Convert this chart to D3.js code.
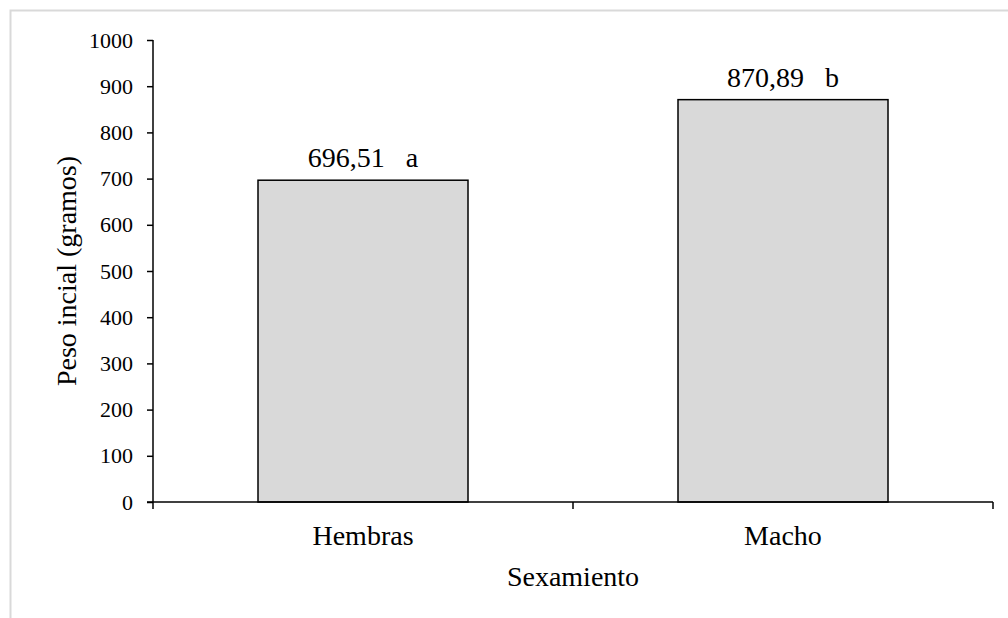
<!DOCTYPE html>
<html>
<head>
<meta charset="utf-8">
<script src="https://cdn.jsdelivr.net/npm/d3@7"></script>
<style>
  html, body { margin: 0; padding: 0; background: #fff; }
  svg { display: block; font-family: "Liberation Serif", "Times New Roman", serif; }
  .tick text { font-size: 22px; fill: #000; font-family: "Liberation Serif", "Times New Roman", serif; }
</style>
</head>
<body>
<div id="view"></div>
<script>
const categories = ["Hembras", "Macho"];
const values = [696.51, 870.89];
const valueLabels = ["696,51   a", "870,89   b"];
const yTicks = [0, 100, 200, 300, 400, 500, 600, 700, 800, 900, 1000];

const W = 1008, H = 618;
const M = { t: 40, r: 15, b: 116, l: 153 };
const w = W - M.l - M.r, h = H - M.t - M.b;

const svg = d3.select("#view").append("svg")
  .attr("width", W).attr("height", H);

// marco del gráfico
svg.append("rect")
  .attr("x", 10.5).attr("y", 10.5)
  .attr("width", W + 20).attr("height", H + 20)
  .attr("fill", "none")
  .attr("stroke", "#d9d9d9")
  .attr("stroke-width", 2);

const g = svg.append("g").attr("transform", `translate(${M.l},${M.t})`);

const x = d3.scaleBand()
  .domain(categories)
  .range([0, w])
  .paddingInner(0.5)
  .paddingOuter(0.25);

const y = d3.scaleLinear().domain([0, 1000]).range([h, 0]);

// barras
g.selectAll("rect.bar")
  .data(categories)
  .join("rect")
  .attr("class", "bar")
  .attr("x", d => x(d))
  .attr("y", (d, i) => y(values[i]))
  .attr("width", x.bandwidth())
  .attr("height", (d, i) => h - y(values[i]))
  .attr("fill", "#d9d9d9")
  .attr("stroke", "#000")
  .attr("stroke-width", 1.5);

// etiquetas de valor
g.selectAll("text.val")
  .data(categories)
  .join("text")
  .attr("class", "val")
  .attr("x", d => x(d) + x.bandwidth() / 2)
  .attr("y", (d, i) => y(values[i]) - 13)
  .attr("text-anchor", "middle")
  .style("font-size", "28px")
  .style("white-space", "pre")
  .text((d, i) => valueLabels[i]);

// eje Y
const yAxis = g.append("g")
  .attr("font-family", null)
  .call(d3.axisLeft(y).tickValues(yTicks).tickSize(6).tickPadding(14).tickFormat(d3.format("d")));
yAxis.attr("font-family", null).attr("font-size", null);
yAxis.select(".domain").attr("stroke", "#000").attr("stroke-width", 1.5).attr("d", `M0,${h}V0`);
yAxis.selectAll(".tick line").attr("stroke", "#000").attr("stroke-width", 1.5);

// eje X con marcas en los límites de categoría
const xAxis = g.append("g").attr("transform", `translate(0,${h})`);
xAxis.append("line")
  .attr("x1", -6).attr("x2", w)
  .attr("stroke", "#000").attr("stroke-width", 1.5);
const bounds = [0, x.step(), 2 * x.step()];
xAxis.selectAll("line.xt")
  .data(bounds)
  .join("line")
  .attr("class", "xt")
  .attr("x1", d => d).attr("x2", d => d)
  .attr("y1", 0).attr("y2", 7)
  .attr("stroke", "#000").attr("stroke-width", 1.5);
xAxis.selectAll("text.cat")
  .data(categories)
  .join("text")
  .attr("class", "cat")
  .attr("x", d => x(d) + x.bandwidth() / 2)
  .attr("y", 43)
  .attr("text-anchor", "middle")
  .style("font-size", "28px")
  .text(d => d);

// títulos de ejes
g.append("text")
  .attr("x", w / 2)
  .attr("y", h + 84)
  .attr("text-anchor", "middle")
  .style("font-size", "28px")
  .text("Sexamiento");

g.append("text")
  .attr("transform", "rotate(-90)")
  .attr("x", -h / 2)
  .attr("y", -77)
  .attr("text-anchor", "middle")
  .style("font-size", "28px")
  .text("Peso incial (gramos)");
</script>
</body>
</html>
